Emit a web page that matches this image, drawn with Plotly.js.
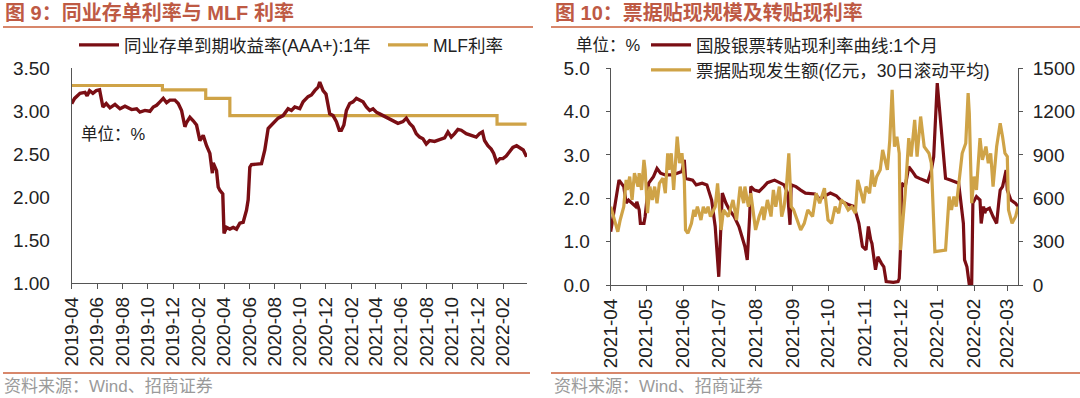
<!DOCTYPE html>
<html>
<head>
<meta charset="utf-8">
<script src="https://cdn.plot.ly/plotly-3.0.1.min.js"></script>
<style>
html,body{margin:0;padding:0;background:#fff;}
#chart{width:1080px;height:398px;}
</style>
</head>
<body>
<div id="chart"></div>
<script>
// ---------- Figure 9 data ----------
const ncdDates = ['2019-04-01','2019-04-08','2019-04-21','2019-05-03','2019-05-08','2019-05-14','2019-05-22','2019-05-30','2019-06-07','2019-06-11','2019-06-15','2019-06-23','2019-07-02','2019-07-14','2019-07-26','2019-08-07','2019-08-23','2019-09-04','2019-09-12','2019-09-24','2019-10-06','2019-10-14','2019-10-22','2019-10-30','2019-11-07','2019-11-15','2019-11-23','2019-12-05','2019-12-13','2019-12-21','2019-12-29','2020-01-02','2020-01-10','2020-01-18','2020-01-26','2020-02-03','2020-02-11','2020-02-19','2020-02-27','2020-03-04','2020-03-06','2020-03-14','2020-03-18','2020-03-22','2020-03-29','2020-04-01','2020-04-07','2020-04-15','2020-04-23','2020-05-01','2020-05-09','2020-05-17','2020-05-25','2020-05-29','2020-06-02','2020-06-06','2020-06-18','2020-06-30','2020-07-08','2020-07-16','2020-07-20','2020-07-28','2020-08-09','2020-08-21','2020-09-02','2020-09-10','2020-09-18','2020-09-30','2020-10-08','2020-10-20','2020-10-28','2020-11-05','2020-11-13','2020-11-17','2020-11-21','2020-11-25','2020-12-02','2020-12-07','2020-12-11','2020-12-19','2020-12-27','2021-01-03','2021-01-08','2021-01-14','2021-01-20','2021-01-28','2021-02-05','2021-02-13','2021-02-21','2021-03-01','2021-03-09','2021-03-17','2021-03-25','2021-04-02','2021-04-10','2021-04-18','2021-04-26','2021-05-04','2021-05-12','2021-05-24','2021-06-05','2021-06-13','2021-06-21','2021-06-29','2021-07-07','2021-07-15','2021-07-23','2021-07-31','2021-08-08','2021-08-20','2021-09-01','2021-09-13','2021-09-21','2021-09-29','2021-10-07','2021-10-15','2021-10-23','2021-11-04','2021-11-16','2021-11-28','2021-12-06','2021-12-13','2021-12-18','2021-12-26','2022-01-03','2022-01-09','2022-01-16','2022-01-24','2022-01-31','2022-02-08','2022-02-16','2022-02-24','2022-03-05','2022-03-13','2022-03-21','2022-03-29'];
const ncdYield = [3.09,3.15,3.21,3.22,3.18,3.24,3.21,3.24,3.25,3.15,3.05,3.09,3.04,3.08,3.03,3.06,3.02,3.03,2.99,3.01,3.00,3.05,3.07,3.11,3.15,3.10,3.13,3.13,3.09,3.01,2.82,2.87,2.93,2.89,2.84,2.66,2.72,2.60,2.51,2.28,2.40,2.31,2.12,2.08,2.04,1.58,1.65,1.63,1.65,1.63,1.70,1.71,1.85,1.97,2.35,2.38,2.39,2.39,2.55,2.80,2.82,2.86,2.92,2.95,3.03,3.01,3.05,3.03,3.11,3.17,3.19,3.24,3.28,3.34,3.30,3.24,3.20,3.09,2.97,2.95,2.88,2.78,2.78,2.84,3.01,3.09,3.11,3.15,3.13,3.11,3.05,3.01,3.03,2.99,2.97,2.95,2.92,2.90,2.88,2.86,2.88,2.92,2.86,2.82,2.74,2.70,2.68,2.62,2.66,2.65,2.67,2.69,2.76,2.70,2.74,2.79,2.78,2.74,2.72,2.70,2.74,2.76,2.66,2.60,2.56,2.51,2.41,2.45,2.45,2.48,2.53,2.58,2.60,2.58,2.55,2.47];
const mlfDates = ['2019-04-01','2019-11-05','2020-02-17','2020-04-15','2022-01-17','2022-03-29'];
const mlfRate  = [3.30,3.25,3.15,2.95,2.85,2.85];
const leftTickVals = ['2019-04-01','2019-06-01','2019-08-01','2019-10-01','2019-12-01','2020-02-01','2020-04-01','2020-06-01','2020-08-01','2020-10-01','2020-12-01','2021-02-01','2021-04-01','2021-06-01','2021-08-01','2021-10-01','2021-12-01','2022-02-01'];
const leftTickText = ['2019-04','2019-06','2019-08','2019-10','2019-12','2020-02','2020-04','2020-06','2020-08','2020-10','2020-12','2021-02','2021-04','2021-06','2021-08','2021-10','2021-12','2022-02'];

// ---------- Figure 10 data ----------
const rateDates = ['2021-04-01','2021-04-08','2021-04-12','2021-04-14','2021-04-16','2021-04-19','2021-04-22','2021-04-23','2021-04-25','2021-04-26','2021-04-29','2021-04-30','2021-05-03','2021-05-07','2021-05-10','2021-05-13','2021-05-17','2021-05-23','2021-05-27','2021-05-31','2021-06-02','2021-06-03','2021-06-09','2021-06-12','2021-06-17','2021-06-21','2021-06-25','2021-06-28','2021-07-01','2021-07-03','2021-07-04','2021-07-07','2021-07-10','2021-07-14','2021-07-18','2021-07-23','2021-07-25','2021-07-27','2021-07-28','2021-07-31','2021-08-04','2021-08-08','2021-08-11','2021-08-17','2021-08-21','2021-08-25','2021-08-28','2021-08-30','2021-08-31','2021-09-04','2021-09-08','2021-09-12','2021-09-20','2021-09-24','2021-09-28','2021-10-03','2021-10-08','2021-10-13','2021-10-18','2021-10-23','2021-10-27','2021-10-30','2021-11-02','2021-11-04','2021-11-06','2021-11-07','2021-11-10','2021-11-12','2021-11-15','2021-11-17','2021-11-19','2021-11-25','2021-11-29','2021-11-30','2021-12-01','2021-12-02','2021-12-05','2021-12-08','2021-12-11','2021-12-14','2021-12-17','2021-12-21','2021-12-24','2021-12-27','2021-12-29','2022-01-01','2022-01-08','2022-01-12','2022-01-16','2022-01-19','2022-01-21','2022-01-23','2022-01-24','2022-01-26','2022-01-28','2022-01-30','2022-01-31','2022-02-03','2022-02-06','2022-02-07','2022-02-09','2022-02-10','2022-02-11','2022-02-14','2022-02-17','2022-02-20','2022-02-22','2022-02-23','2022-02-25','2022-02-28','2022-03-01','2022-03-04','2022-03-08','2022-03-10'];
const rateValues = [1.23,2.42,2.27,1.89,1.96,1.89,1.81,1.92,1.73,1.42,1.42,1.58,2.35,2.50,2.69,2.58,2.54,2.54,2.58,2.62,2.89,2.46,2.42,2.31,2.35,2.31,1.96,1.35,0.19,1.27,2.12,1.89,1.73,1.58,1.35,0.89,0.58,1.58,2.27,2.19,2.16,2.27,2.36,2.42,2.36,2.31,2.12,1.39,2.31,2.27,2.19,2.12,2.10,1.98,2.05,2.12,2.06,1.92,1.86,1.81,1.42,0.89,0.81,1.35,1.04,0.96,0.35,0.65,0.50,0.42,0.08,0.06,0.08,0.15,0.81,2.35,2.27,2.73,2.62,2.50,2.46,2.42,2.38,2.65,2.96,4.66,2.46,2.42,2.38,2.35,1.89,1.42,0.58,0.42,0.00,0.00,1.89,2.04,1.96,1.42,1.81,1.66,1.73,1.77,1.58,1.42,1.96,2.19,2.27,2.65,2.19,1.96,1.88,1.81];
const amtDates = ['2021-04-01','2021-04-04','2021-04-07','2021-04-09','2021-04-12','2021-04-14','2021-04-15','2021-04-17','2021-04-19','2021-04-21','2021-04-24','2021-04-25','2021-04-27','2021-04-29','2021-04-30','2021-05-02','2021-05-04','2021-05-06','2021-05-08','2021-05-10','2021-05-12','2021-05-15','2021-05-17','2021-05-19','2021-05-20','2021-05-22','2021-05-24','2021-05-27','2021-05-29','2021-05-31','2021-06-02','2021-06-03','2021-06-05','2021-06-08','2021-06-10','2021-06-11','2021-06-13','2021-06-16','2021-06-18','2021-06-20','2021-06-22','2021-06-24','2021-06-28','2021-06-30','2021-07-03','2021-07-05','2021-07-09','2021-07-13','2021-07-16','2021-07-19','2021-07-22','2021-07-23','2021-07-26','2021-07-28','2021-07-30','2021-08-01','2021-08-04','2021-08-07','2021-08-08','2021-08-11','2021-08-14','2021-08-16','2021-08-18','2021-08-21','2021-08-23','2021-08-25','2021-08-27','2021-08-29','2021-08-31','2021-09-02','2021-09-04','2021-09-08','2021-09-11','2021-09-14','2021-09-18','2021-09-21','2021-09-24','2021-09-28','2021-10-01','2021-10-04','2021-10-07','2021-10-10','2021-10-12','2021-10-15','2021-10-18','2021-10-21','2021-10-24','2021-10-26','2021-10-29','2021-10-31','2021-11-02','2021-11-05','2021-11-07','2021-11-09','2021-11-11','2021-11-14','2021-11-16','2021-11-18','2021-11-20','2021-11-22','2021-11-24','2021-11-26','2021-11-28','2021-11-30','2021-12-01','2021-12-05','2021-12-08','2021-12-10','2021-12-13','2021-12-15','2021-12-18','2021-12-21','2021-12-25','2021-12-27','2021-12-30','2022-01-08','2022-01-11','2022-01-13','2022-01-15','2022-01-17','2022-01-19','2022-01-22','2022-01-25','2022-01-27','2022-01-28','2022-01-30','2022-02-01','2022-02-03','2022-02-06','2022-02-08','2022-02-11','2022-02-13','2022-02-15','2022-02-17','2022-02-20','2022-02-23','2022-02-25','2022-02-27','2022-03-01','2022-03-02','2022-03-05','2022-03-08','2022-03-10'];
const amtValues = [542,450,369,450,542,727,658,750,589,774,681,774,658,866,797,497,681,589,681,566,704,739,635,912,797,912,658,1027,843,912,727,381,358,427,520,474,542,450,542,497,542,474,542,704,381,520,474,589,450,681,566,681,542,635,497,381,474,542,450,589,474,658,542,681,474,542,681,912,542,520,474,381,427,520,474,635,566,670,450,427,542,497,589,566,520,542,497,727,635,566,681,635,797,681,750,797,935,866,797,1000,1351,958,1027,912,242,635,1016,889,1143,889,1166,958,912,843,231,242,612,520,612,543,681,912,981,1328,1189,566,750,658,1016,866,958,843,912,681,958,1120,1027,912,889,520,427,474,542];
const rightTickVals = ['2021-04-01','2021-05-01','2021-06-01','2021-07-01','2021-08-01','2021-09-01','2021-10-01','2021-11-01','2021-12-01','2022-01-01','2022-02-01','2022-03-01'];
const rightTickText = ['2021-04','2021-05','2021-06','2021-07','2021-08','2021-09','2021-10','2021-11','2021-12','2022-01','2022-02','2022-03'];

// ---------- styling ----------
const RED = '#7A0E14';
const GOLD = '#CFA347';
const FONT = 'Liberation Sans, Arial, Noto Sans CJK SC, sans-serif';
const W = 1080, H = 398;
const px = v => v / W;
const py = v => 1 - v / H;

const traces = [
  {x: mlfDates, y: mlfRate, type: 'scatter', mode: 'lines', name: 'MLF利率',
   line: {color: GOLD, width: 3.2, shape: 'hv'}, xaxis: 'x', yaxis: 'y', legend: 'legend2'},
  {x: ncdDates, y: ncdYield, type: 'scatter', mode: 'lines', name: '同业存单到期收益率(AAA+):1年',
   line: {color: RED, width: 3.4}, xaxis: 'x', yaxis: 'y', legend: 'legend'},
  {x: rateDates, y: rateValues, type: 'scatter', mode: 'lines', name: '国股银票转贴现利率曲线:1个月',
   line: {color: RED, width: 3.2}, xaxis: 'x2', yaxis: 'y2', legend: 'legend3'},
  {x: amtDates, y: amtValues, type: 'scatter', mode: 'lines', name: '票据贴现发生额(亿元，30日滚动平均)',
   line: {color: GOLD, width: 3.2}, xaxis: 'x2', yaxis: 'y3', legend: 'legend4'}
];

const tickFont = {family: FONT, size: 19, color: '#222'};
const legFont = {family: FONT, size: 17.5, color: '#222'};
function leg(x, y) {
  return {x: px(x), y: py(y), xanchor: 'left', yanchor: 'middle', orientation: 'h',
          bgcolor: 'rgba(0,0,0,0)', borderwidth: 0, font: legFont, itemwidth: 40};
}

const layout = {
  width: W, height: H,
  margin: {l: 0, r: 0, t: 0, b: 0},
  paper_bgcolor: '#fff', plot_bgcolor: '#fff',
  showlegend: true,
  xaxis: {domain: [px(71.7), px(527)], type: 'date', range: ['2019-04-01', '2022-03-30'],
          tickmode: 'array', tickvals: leftTickVals, ticktext: leftTickText, tickangle: -90,
          ticks: 'outside', ticklen: 5, tickcolor: '#555', showline: true, linecolor: '#555', linewidth: 1,
          showgrid: false, zeroline: false, tickfont: tickFont, anchor: 'y'},
  yaxis: {domain: [py(283.3), py(68.3)], range: [1, 3.5], dtick: 0.5, tickformat: '.2f',
          showline: true, linecolor: '#555', linewidth: 1, ticks: '', showgrid: false, zeroline: false,
          tickfont: tickFont, ticklabelstandoff: 17, anchor: 'x'},
  xaxis2: {domain: [px(610.7), px(1018)], type: 'date', range: ['2021-04-01', '2022-03-10'],
          tickmode: 'array', tickvals: rightTickVals, ticktext: rightTickText, tickangle: -90,
          ticks: 'outside', ticklen: 5, tickcolor: '#555', showline: true, linecolor: '#555', linewidth: 1,
          showgrid: false, zeroline: false, tickfont: tickFont, anchor: 'y2'},
  yaxis2: {domain: [py(285), py(68.3)], range: [0, 5], dtick: 1, tickformat: '.1f',
          showline: true, linecolor: '#555', linewidth: 1, ticks: 'outside', ticklen: 4, tickcolor: '#555',
          showgrid: false, zeroline: false, tickfont: tickFont, ticklabelstandoff: 12, anchor: 'x2'},
  yaxis3: {domain: [py(285), py(68.3)], range: [0, 1500], dtick: 300, overlaying: 'y2', side: 'right',
          showline: true, linecolor: '#555', linewidth: 1, ticks: 'outside', ticklen: 4, tickcolor: '#555',
          showgrid: false, zeroline: false, tickfont: tickFont, ticklabelstandoff: 6, anchor: 'x2'},
  legend: leg(74, 45),
  legend2: leg(383, 45),
  legend3: leg(646, 45),
  legend4: leg(646, 70),
  shapes: [
    {type: 'line', xref: 'paper', yref: 'paper', x0: px(3), x1: px(533), y0: py(27), y1: py(27), line: {color: '#D8876B', width: 2}},
    {type: 'line', xref: 'paper', yref: 'paper', x0: px(551), x1: px(1080), y0: py(27), y1: py(27), line: {color: '#D8876B', width: 2}},
    {type: 'line', xref: 'paper', yref: 'paper', x0: px(3), x1: px(530), y0: py(373), y1: py(373), line: {color: '#D8876B', width: 2}},
    {type: 'line', xref: 'paper', yref: 'paper', x0: px(551), x1: px(1080), y0: py(373), y1: py(373), line: {color: '#D8876B', width: 2}}
  ],
  annotations: [
    {xref: 'paper', yref: 'paper', x: px(3), y: py(13), xanchor: 'left', yanchor: 'middle', showarrow: false,
     text: '图 9：同业存单利率与 MLF 利率', font: {family: FONT, size: 20, color: '#BE5A44', weight: 'bold'}},
    {xref: 'paper', yref: 'paper', x: px(553), y: py(13), xanchor: 'left', yanchor: 'middle', showarrow: false,
     text: '图 10：票据贴现规模及转贴现利率', font: {family: FONT, size: 20, color: '#BE5A44', weight: 'bold'}},
    {xref: 'paper', yref: 'paper', x: px(79), y: py(134), xanchor: 'left', yanchor: 'middle', showarrow: false,
     text: '单位：%', font: {family: FONT, size: 16.5, color: '#222'}},
    {xref: 'paper', yref: 'paper', x: px(574), y: py(45), xanchor: 'left', yanchor: 'middle', showarrow: false,
     text: '单位：%', font: {family: FONT, size: 16.5, color: '#222'}},
    {xref: 'paper', yref: 'paper', x: px(2), y: py(386), xanchor: 'left', yanchor: 'middle', showarrow: false,
     text: '资料来源：Wind、招商证券', font: {family: FONT, size: 17, color: '#9A9A9A'}},
    {xref: 'paper', yref: 'paper', x: px(552), y: py(386), xanchor: 'left', yanchor: 'middle', showarrow: false,
     text: '资料来源：Wind、招商证券', font: {family: FONT, size: 17, color: '#9A9A9A'}}
  ]
};

Plotly.newPlot('chart', traces, layout, {staticPlot: true, displayModeBar: false});
</script>
</body>
</html>
